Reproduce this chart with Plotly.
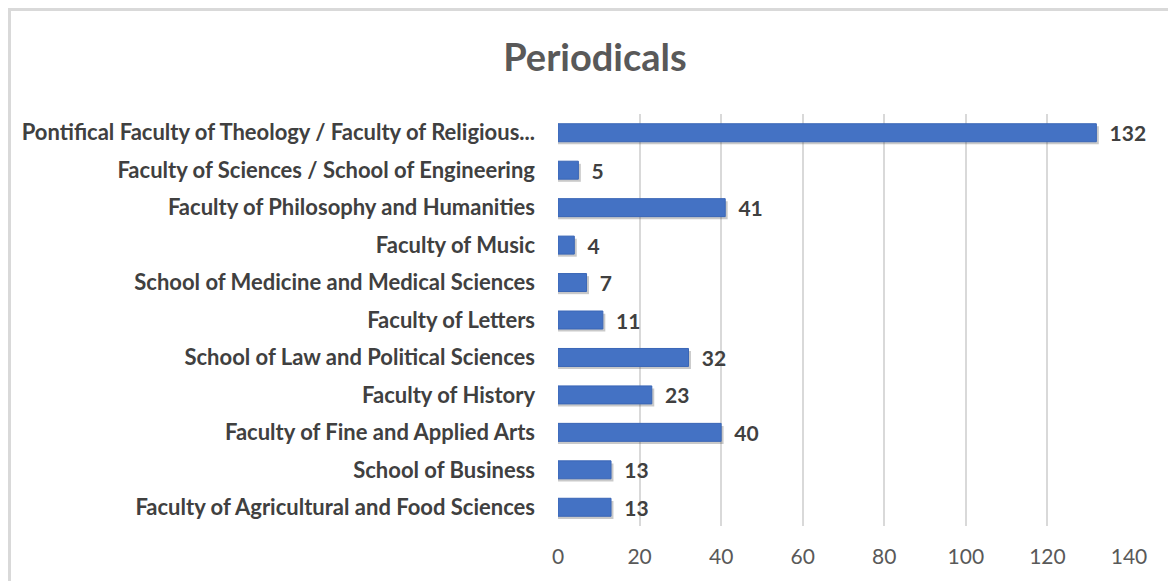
import plotly.graph_objects as go

categories = [
    "Pontifical Faculty of Theology / Faculty of Religious...",
    "Faculty of Sciences / School of Engineering",
    "Faculty of Philosophy and Humanities",
    "Faculty of Music",
    "School of Medicine and Medical Sciences",
    "Faculty of Letters",
    "School of Law and Political Sciences",
    "Faculty of History",
    "Faculty of Fine and Applied Arts",
    "School of Business",
    "Faculty of Agricultural and Food Sciences",
]
values = [132, 5, 41, 4, 7, 11, 32, 23, 40, 13, 13]
tick_vals = [0, 20, 40, 60, 80, 100, 120, 140]

W, H = 1168, 581
ml, mr, mt, mb = 558, 39, 114, 55
pw = W - ml - mr
ph = H - mt - mb

fig = go.Figure()
# soft shadow under bars
fig.add_trace(go.Bar(
    y=categories, x=[v + 0.6 for v in values], orientation="h",
    marker=dict(color="rgba(60,60,60,0.28)", line=dict(width=0)),
    width=0.48, offset=-0.24 + 0.07, hoverinfo="skip",
))
fig.add_trace(go.Bar(
    y=categories, x=values, orientation="h",
    marker=dict(color="#4472C4", line=dict(color="#3A66B6", width=1)),
    text=["\u00a0\u00a0" + str(v) for v in values], textposition="outside",
    constraintext="none",
    textfont=dict(family="Lato", size=21, color="#404040", weight="bold"),
    cliponaxis=False, width=0.48, offset=-0.24,
))

# outer frame (light grey), partially out of view like in reference
fig.add_shape(type="rect", xref="paper", yref="paper",
              x0=(9.5 - ml) / pw, x1=1 + (mr + 20) / pw,
              y0=-(mb + 20) / ph, y1=1 + (mt - 9.5) / ph,
              line=dict(color="#D9D9D9", width=3), layer="below")

fig.update_layout(
    width=W, height=H,
    margin=dict(l=ml, r=mr, t=mt, b=mb),
    paper_bgcolor="white", plot_bgcolor="white",
    title=dict(text="<b>Periodicals</b>", x=595 / W, xanchor="center",
               y=1 - 58 / H, yanchor="middle",
               font=dict(family="Lato", size=38, color="#595959")),
    showlegend=False,
    barmode="overlay",
    xaxis=dict(range=[0, 140], tickvals=tick_vals, showgrid=True,
               gridcolor="#D9D9D9", gridwidth=2, zeroline=False,
               showline=False, ticks="",
               tickfont=dict(family="Lato", size=21, color="#595959"),
               ticklabelstandoff=16),
    yaxis=dict(autorange="reversed", showgrid=False, showline=False,
               ticks="", ticklabelstandoff=22,
               tickfont=dict(family="Lato", size=22, color="#404040", weight="bold")),
)

fig.write_html("out.html", config={"displayModeBar": False},
               post_script="document.body.style.margin='0px';document.body.style.overflow='hidden';")
